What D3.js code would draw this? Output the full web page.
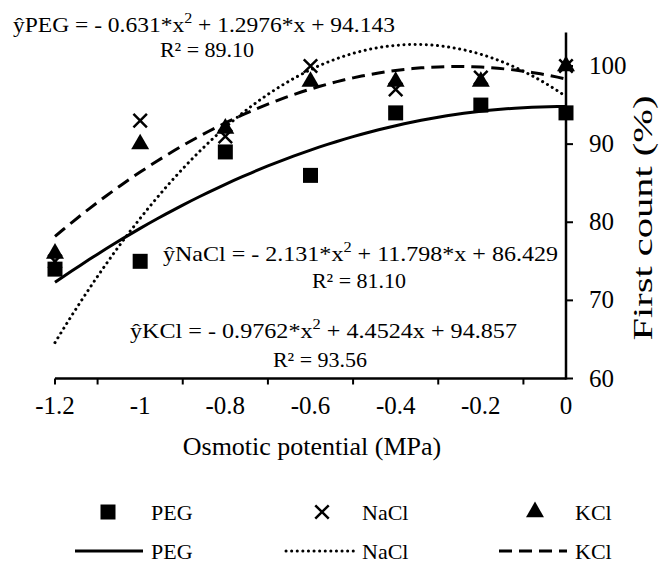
<!DOCTYPE html>
<html>
<head>
<meta charset="utf-8">
<title>First count vs osmotic potential</title>
<script src="https://d3js.org/d3.v7.min.js"></script>
<style>
body { margin: 0; background: #fff; }
</style>
</head>
<body>
<svg id="chart"></svg>
<script>

// Data
var potentials = [-1.2, -1, -0.8, -0.6, -0.4, -0.2, 0];
var xTickLabels = ["-1.2", "-1", "-0.8", "-0.6", "-0.4", "-0.2", "0"];
var yTicks = [60, 70, 80, 90, 100];

var pegValues  = [74, 75, 89, 86, 94, 95, 94];
var naclValues = [75, 93, 91, 100, 97, 98.5, 100];
var kclValues  = [76, 90, 92, 98, 98, 98, 100];

// fitted quadratics as printed on the chart (x = treatment level, 1 at 0 MPa)
var pegFit  = [-0.631, 1.2976, 94.143];
var naclFit = [-2.131, 11.798, 86.429];
var kclFit  = [-0.9762, 4.4524, 94.857];

var width = 665, height = 566;
var serif = "'Liberation Serif'";

var svg = d3.select("#chart")
    .attr("width", width)
    .attr("height", height);

// every label goes through here so the font is set on the element itself
function label(sel, size) {
    return sel.style("font-family", serif).style("font-size", size + "px").attr("fill", "#000");
}

var x = d3.scaleLinear().domain([-1.2, 0]).range([55, 566]);
var y = d3.scaleLinear().domain([60, 100]).range([378.5, 66]);

// axes
svg.append("line")
    .attr("x1", x(-1.2)).attr("x2", x(0))
    .attr("y1", y(60)).attr("y2", y(60))
    .attr("stroke", "#000").attr("stroke-width", 2.5);

svg.append("line")
    .attr("x1", x(0)).attr("x2", x(0))
    .attr("y1", y(60) + 1).attr("y2", y(104.3))
    .attr("stroke", "#000").attr("stroke-width", 2.5);

// x ticks sit between the category labels
var xTickPos = [-1.2, -1.1, -0.9, -0.7, -0.5, -0.3, -0.1];
svg.selectAll(".xtick")
    .data(xTickPos)
    .enter().append("line")
    .attr("class", "xtick")
    .attr("x1", function (d) { return x(d); })
    .attr("x2", function (d) { return x(d); })
    .attr("y1", y(60)).attr("y2", y(60) + 6)
    .attr("stroke", "#000").attr("stroke-width", 2);

label(svg.selectAll(".xlab")
    .data(potentials)
    .enter().append("text")
    .attr("class", "xlab")
    .attr("x", function (d) { return x(d); })
    .attr("y", 414)
    .attr("text-anchor", "middle"), 25)
    .text(function (d, i) { return xTickLabels[i]; });

svg.selectAll(".ytick")
    .data(yTicks)
    .enter().append("line")
    .attr("class", "ytick")
    .attr("x1", x(0)).attr("x2", x(0) + 7)
    .attr("y1", function (d) { return y(d); })
    .attr("y2", function (d) { return y(d); })
    .attr("stroke", "#000").attr("stroke-width", 2);

label(svg.selectAll(".ylab")
    .data(yTicks)
    .enter().append("text")
    .attr("class", "ylab")
    .attr("x", 589)
    .attr("y", function (d) { return y(d) + 8; }), 25)
    .text(function (d) { return d; });

label(svg.append("text")
    .attr("transform", "translate(652," + 218 + ")rotate(-90)")
    .attr("text-anchor", "middle")
    .attr("textLength", 245)
    .attr("lengthAdjust", "spacingAndGlyphs"), 28)
    .text("First count (%)");

label(svg.append("text")
    .attr("x", 312).attr("y", 455)
    .attr("text-anchor", "middle"), 26)
    .text("Osmotic potential (MPa)");

// regression curves
function fitCurve(c) {
    var pts = [];
    for (var p = -1.2; p <= 0.0001; p += 0.02) {
        var t = 1 - p / 0.2;
        pts.push([p, c[0] * t * t + c[1] * t + c[2]]);
    }
    return pts;
}

var line = d3.line()
    .x(function (d) { return x(d[0]); })
    .y(function (d) { return y(d[1]); });

var curves = [
    { fit: pegFit, dash: null, cap: "butt" },
    { fit: naclFit, dash: "0.1 5.5", cap: "round" },
    { fit: kclFit, dash: "13 7", cap: "butt" }
];

svg.selectAll(".fit")
    .data(curves)
    .enter().append("path")
    .attr("class", "fit")
    .attr("d", function (d) { return line(fitCurve(d.fit)); })
    .attr("fill", "none")
    .attr("stroke", "#000")
    .attr("stroke-width", 3)
    .attr("stroke-linecap", function (d) { return d.cap; })
    .attr("stroke-dasharray", function (d) { return d.dash; });

// markers
var sq = d3.symbol().type(d3.symbolSquare).size(225);
var tri = d3.symbol().type(d3.symbolTriangle).size(140);
var cross = d3.symbol().type(d3.symbolX).size(120);

function drawSeries(vals, sym, cls, stroke) {
    svg.selectAll("." + cls)
        .data(vals)
        .enter().append("path")
        .attr("class", cls)
        .attr("transform", function (d, i) { return "translate(" + x(potentials[i]) + "," + y(d) + ")"; })
        .attr("d", sym)
        .attr("fill", stroke ? "none" : "#000")
        .attr("stroke", stroke ? "#000" : null)
        .attr("stroke-width", stroke ? 2.5 : null);
}

drawSeries(pegValues, sq, "peg", false);
drawSeries(naclValues, cross, "nacl", true);
drawSeries(kclValues, tri, "kcl", false);

// equations
function equation(xPos, yPos, name, a, rest, len) {
    var t = label(svg.append("text")
        .attr("x", xPos).attr("y", yPos)
        .attr("textLength", len)
        .attr("lengthAdjust", "spacingAndGlyphs"), 22);
    t.append("tspan").text("\u0177" + name + " = - " + a + "*x");
    t.append("tspan").attr("dy", -9).style("font-size", "15px").text("2");
    t.append("tspan").attr("dy", 9).text(" + " + rest);
}

function rsq(cx, yPos, val) {
    label(svg.append("text")
        .attr("x", cx).attr("y", yPos)
        .attr("text-anchor", "middle"), 22)
        .text("R\u00b2 = " + val);
}

equation(13, 32, "PEG", "0.631", "1.2976*x + 94.143", 382);
rsq(207, 57, "89.10");
equation(163, 261, "NaCl", "2.131", "11.798*x + 86.429", 395);
rsq(359, 288, "81.10");
equation(130, 338, "KCl", "0.9762", "4.4524x + 94.857", 387);
rsq(320, 367, "93.56");

// legend
var legendNames = ["PEG", "NaCl", "KCl"];
var legendMarkX = [108, 322, 535];
var legendTextX = [151, 362, 575];
var legendSyms = [sq, cross, tri];

legendNames.forEach(function (name, i) {
    svg.append("path")
        .attr("transform", "translate(" + legendMarkX[i] + ",512)")
        .attr("d", legendSyms[i])
        .attr("fill", i === 1 ? "none" : "#000")
        .attr("stroke", i === 1 ? "#000" : null)
        .attr("stroke-width", i === 1 ? 2.5 : null);
    label(svg.append("text")
        .attr("x", legendTextX[i]).attr("y", 520), 22)
        .text(name);

    svg.append("line")
        .attr("x1", legendTextX[i] - 76).attr("x2", legendTextX[i] - 8)
        .attr("y1", 551).attr("y2", 551)
        .attr("stroke", "#000").attr("stroke-width", 3)
        .attr("stroke-linecap", curves[i].cap)
        .attr("stroke-dasharray", curves[i].dash);
    label(svg.append("text")
        .attr("x", legendTextX[i]).attr("y", 559), 22)
        .text(name);
});

</script>
</body>
</html>
